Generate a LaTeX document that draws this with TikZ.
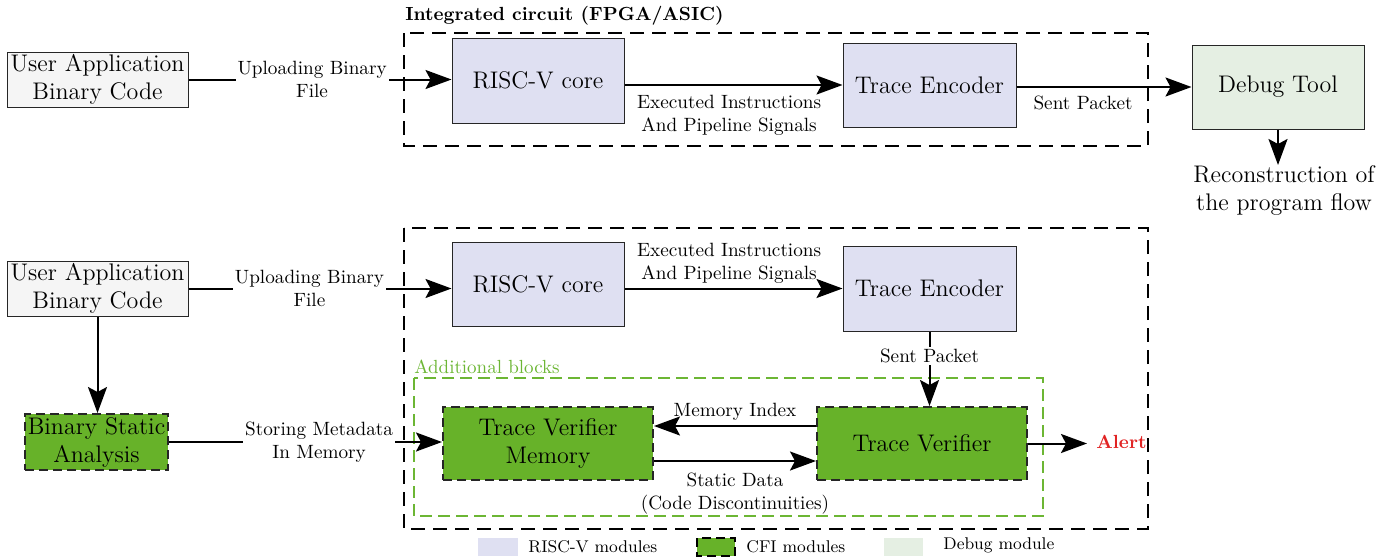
\documentclass[tikz,border=0pt]{standalone}
\usetikzlibrary{arrows.meta,calc}
\definecolor{rvfill}{RGB}{223,224,242}
\definecolor{cfigreen}{RGB}{103,178,41}
\definecolor{dbgfill}{RGB}{229,239,227}
\definecolor{uafill}{RGB}{245,245,245}
\definecolor{addgreen}{RGB}{108,182,52}
\definecolor{alertred}{RGB}{225,35,35}
\begin{document}
\begin{tikzpicture}[x=0.5pt,y=-0.5pt,
  box/.style={draw=black!85,line width=0.5pt,inner sep=0pt,align=center,font=\fontsize{12}{14}\selectfont},
  uabox/.style={box,fill=uafill},
  rvbox/.style={box,fill=rvfill},
  dbgbox/.style={box,fill=dbgfill},
  cfibox/.style={box,fill=cfigreen,line width=1pt,dash pattern=on 4.5pt off 2.5pt},
  arr/.style={-{Stealth[length=13pt,width=9.5pt,inset=2.5pt]},line width=1pt},
  lbl/.style={font=\fontsize{9.6}{11.5}\selectfont,align=center,inner sep=1pt},
  lblw/.style={lbl,fill=white},
  icbox/.style={line width=1pt,dash pattern=on 7pt off 4pt},
  legtxt/.style={font=\fontsize{8.5}{10}\selectfont,anchor=west,inner sep=0pt}
]
\useasboundingbox (0,0) rectangle (1396,558);

% ---------- top ----------
\node[font=\bfseries\fontsize{9.5}{11}\selectfont,anchor=west,inner sep=0pt] (ictitle) at (405,16) {Integrated circuit (FPGA/ASIC)};
\draw[icbox] (404,33) rectangle (1148,146);

\node[uabox,minimum width=90.5pt,minimum height=27.5pt] (ua1) at (97.5,79.5) {User Application\\Binary Code};
\node[rvbox,minimum width=86pt,minimum height=42.5pt] (rv1) at (538,80.5) {RISC-V core};
\node[rvbox,minimum width=86.5pt,minimum height=42pt] (te1) at (929.5,85) {Trace Encoder};
\node[dbgbox,minimum width=86pt,minimum height=42pt] (dbg) at (1278,87) {Debug Tool};
\node[align=center,font=\fontsize{12}{14}\selectfont,inner sep=0pt,anchor=north] (recon) at (1284,165) {Reconstruction of\\the program flow};

\draw[arr] (ua1.east) -- node[lblw,pos=0.47]{Uploading Binary\\File} (rv1.west |- ua1.east);
\draw[arr] (rv1.east |- te1.west) -- node[lbl,below=3.5pt,pos=0.48]{Executed Instructions\\And Pipeline Signals} (te1.west);
\draw[arr] (te1.east |- dbg.west) -- node[lbl,below=3pt,pos=0.38]{Sent Packet} (dbg.west);
\draw[arr] (dbg.south) -- (recon.north -| dbg.south);

% ---------- bottom ----------
\draw[icbox] (404,228) rectangle (1148,529);
\draw[addgreen,line width=0.8pt,dash pattern=on 6pt off 3pt] (414,378) rectangle (1043,516);
\node[anchor=south west,inner sep=0pt,text=addgreen,font=\fontsize{9.5}{11}\selectfont] (addl) at (414,374) {Additional blocks};

\node[uabox,minimum width=90.5pt,minimum height=27.5pt] (ua2) at (97.5,288.5) {User Application\\Binary Code};
\node[rvbox,minimum width=86pt,minimum height=42pt] (rv2) at (538,284) {RISC-V core};
\node[rvbox,minimum width=86.5pt,minimum height=42.5pt] (te2) at (929.5,288.5) {Trace Encoder};
\node[cfibox,minimum width=71.5pt,minimum height=28pt] (bsa) at (96.5,442) {Binary Static\\Analysis};
\node[cfibox,minimum width=105pt,minimum height=36.5pt] (tvm) at (548,443.5) {Trace Verifier\\Memory};
\node[cfibox,minimum width=105pt,minimum height=36.5pt] (tv) at (922,443.5) {Trace Verifier};
\node[text=alertred,font=\bfseries\fontsize{9.5}{11}\selectfont,anchor=west,inner sep=0pt] (alert) at (1096,442) {Alert};

\draw[arr] (ua2.east) -- node[lblw,pos=0.46]{Uploading Binary\\File} (rv2.west |- ua2.east);
\draw[arr] (rv2.east |- te2.west) -- node[lbl,above=1pt,pos=0.48]{Executed Instructions\\And Pipeline Signals} (te2.west);
\draw[arr] (te2.south) -- node[lblw,pos=0.33]{Sent Packet} (te2.south |- tv.north);
\draw[arr] ([yshift=8.75pt]tv.west) -- node[lbl,above=1.5pt]{Memory Index} ([yshift=8.75pt]tvm.east);
\draw[arr] ([yshift=-8.75pt]tvm.east) -- node[lbl,below=4.5pt]{Static Data\\(Code Discontinuities)} ([yshift=-8.75pt]tv.west);
\draw[arr] (tv.east) -- ([xshift=-4.5pt]tv.east -| alert.west);
\draw[arr] (ua2.south) -- (ua2.south |- bsa.north);
\draw[arr] (bsa.east) -- node[lblw,pos=0.55]{Storing Metadata\\In Memory} (tvm.west |- bsa.east);

% ---------- legend ----------
\fill[rvfill] (478,538) rectangle (518,556);
\node[legtxt] (l1) at (528,547) {RISC-V modules};
\filldraw[fill=cfigreen,draw=black,line width=1pt,dash pattern=on 4.5pt off 2.5pt] (697,538) rectangle (735,556);
\node[legtxt] (l2) at (746,547) {CFI modules};
\fill[dbgfill] (884,538) rectangle (923,556);
\node[legtxt] (l3) at (943,545) {Debug module};
\end{tikzpicture}
\end{document}
